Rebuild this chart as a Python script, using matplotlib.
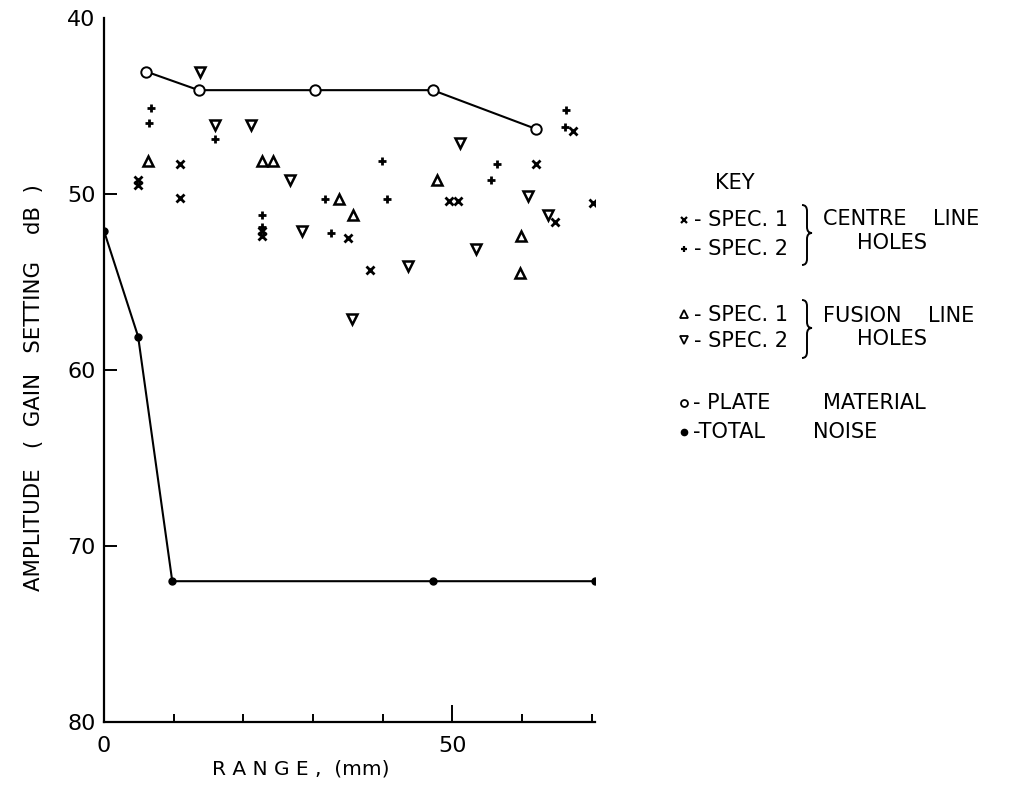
import matplotlib
matplotlib.use("Agg")
import matplotlib.pyplot as plt
from matplotlib.path import Path
from matplotlib.patches import PathPatch

# ---- data (range mm, amplitude dB) ----
centre_spec1_x = [4.9, 4.9, 10.9, 10.9, 22.7, 22.7, 35.1, 38.2, 49.5, 50.8, 62.0, 67.4, 64.8, 70.2]
centre_spec1_y = [49.2, 49.5, 48.3, 50.2, 52.1, 52.4, 52.5, 54.3, 50.4, 50.4, 48.3, 46.4, 51.6, 50.5]

centre_spec2_x = [6.7, 6.5, 15.9, 22.7, 22.7, 31.8, 32.6, 39.9, 40.7, 56.4, 55.5, 66.3, 66.2]
centre_spec2_y = [45.1, 45.95, 46.9, 51.2, 51.9, 50.3, 52.2, 48.1, 50.3, 48.3, 49.2, 45.2, 46.2]

fusion_spec1_x = [6.3, 22.7, 24.3, 33.8, 35.7, 47.8, 59.9, 59.8]
fusion_spec1_y = [48.1, 48.1, 48.1, 50.3, 51.2, 49.2, 52.4, 54.5]

fusion_spec2_x = [13.8, 15.9, 21.1, 26.7, 28.4, 35.6, 51.1, 60.9, 63.7, 53.4, 43.7]
fusion_spec2_y = [43.05, 46.1, 46.1, 49.2, 52.1, 57.1, 47.1, 50.1, 51.2, 53.1, 54.1]

plate_x = [6.1, 13.6, 30.3, 47.2, 62.0]
plate_y = [43.05, 44.1, 44.1, 44.1, 46.3]

noise_x = [0.0, 4.9, 9.8, 47.2, 70.5]
noise_y = [52.1, 58.1, 72.0, 72.0, 72.0]

y_ticks = [40, 50, 60, 70, 80]
x_major = [0, 50]
x_minor = [10, 20, 30, 40, 60, 70]

plt.rcParams["font.family"] = ["DejaVu Sans"]

W, H = 1009, 792
fig = plt.figure(figsize=(W / 100, H / 100), dpi=100)
ax = fig.add_axes([104 / W, 1 - 722 / H, (595 - 104) / W, (722 - 18) / H])

k = "black"
ax.plot(plate_x, plate_y, color=k, lw=1.5, marker="o", ms=7.5, mfc="white", mec=k, mew=1.4, zorder=3)
ax.plot(noise_x, noise_y, color=k, lw=1.5, marker="o", ms=5, mfc=k, mec=k, zorder=3)
ax.plot(centre_spec1_x, centre_spec1_y, ls="none", marker="x", ms=5.5, mew=2.0, color=k)
ax.plot(centre_spec2_x, centre_spec2_y, ls="none", marker="+", ms=6, mew=2.0, color=k)
ax.plot(fusion_spec1_x, fusion_spec1_y, ls="none", marker="^", ms=7.5, mfc="white", mec=k, mew=1.8)
ax.plot(fusion_spec2_x, fusion_spec2_y, ls="none", marker="v", ms=7.5, mfc="white", mec=k, mew=1.8)

ax.set_xlim(0, 70.5)
ax.set_ylim(80, 40)
for s in ["top", "right"]:
    ax.spines[s].set_visible(False)
for s in ["left", "bottom"]:
    ax.spines[s].set_linewidth(1.6)

ax.set_yticks(y_ticks)
ax.set_yticklabels([str(v) for v in y_ticks], fontsize=16)
ax.tick_params(axis="y", direction="in", length=9, width=1.4, pad=6)
yt = ax.yaxis.get_major_ticks()
yt[0].tick1line.set_visible(False)
yt[-1].tick1line.set_visible(False)

ax.set_xticks(x_major)
ax.set_xticks(x_minor, minor=True)
ax.set_xticklabels([str(v) for v in x_major], fontsize=16)
ax.tick_params(axis="x", which="major", direction="in", length=12, width=1.4, pad=10)
ax.tick_params(axis="x", which="minor", direction="in", length=6, width=1.4)
ax.xaxis.get_major_ticks()[0].tick1line.set_visible(False)

# overlay in pixel coordinates for labels and key
ov = fig.add_axes([0, 0, 1, 1], facecolor="none")
ov.set_xlim(0, W)
ov.set_ylim(H, 0)
ov.axis("off")

def t(x, y, s, size=15, ha="left", **kw):
    ov.text(x, y, s, fontsize=size, ha=ha, va="center", **kw)

t(301, 769, "R A N G E ,  (mm)", size=14.5, ha="center")
t(34, 388, "AMPLITUDE   (  GAIN   SETTING    dB  )", size=15.3, ha="center", rotation=90)

def brace(xl, y0, y1, ym):
    xm, xt, r = xl + 5, xl + 10, 6
    verts = [(xl, y0), (xm, y0), (xm, y0 + r), (xm, ym - r), (xm, ym), (xt, ym),
             (xm, ym), (xm, ym + r), (xm, y1 - r), (xm, y1), (xl, y1)]
    codes = [Path.MOVETO, Path.CURVE3, Path.CURVE3, Path.LINETO, Path.CURVE3, Path.CURVE3,
             Path.CURVE3, Path.CURVE3, Path.LINETO, Path.CURVE3, Path.CURVE3]
    ov.add_patch(PathPatch(Path(verts, codes), fill=False, lw=1.4, ec=k))

t(715, 183, "KEY")
ov.plot([684], [220], ls="none", marker="x", ms=4.5, mew=1.6, color=k)
t(694, 220, "- SPEC. 1")
ov.plot([684], [249], ls="none", marker="+", ms=5, mew=1.6, color=k)
t(694, 249, "- SPEC. 2")
brace(802, 205, 265, 233)
t(823, 219, "CENTRE    LINE")
t(857, 243, "HOLES")

ov.plot([684], [314], ls="none", marker="^", ms=5.5, mfc="white", mec=k, mew=1.3)
t(694, 315, "- SPEC. 1")
ov.plot([684], [340], ls="none", marker="v", ms=5.5, mfc="white", mec=k, mew=1.3)
t(694, 341, "- SPEC. 2")
brace(802, 300, 358, 328)
t(823, 316, "FUSION    LINE")
t(857, 339, "HOLES")

ov.plot([684], [403], ls="none", marker="o", ms=5, mfc="white", mec=k, mew=1.3)
t(693, 403, "- PLATE")
t(823, 403, "MATERIAL")
ov.plot([684], [432], ls="none", marker="o", ms=4.5, mfc=k, mec=k)
t(693, 432, "-TOTAL")
t(813, 432, "NOISE")

fig.savefig("out.png", dpi=100)
